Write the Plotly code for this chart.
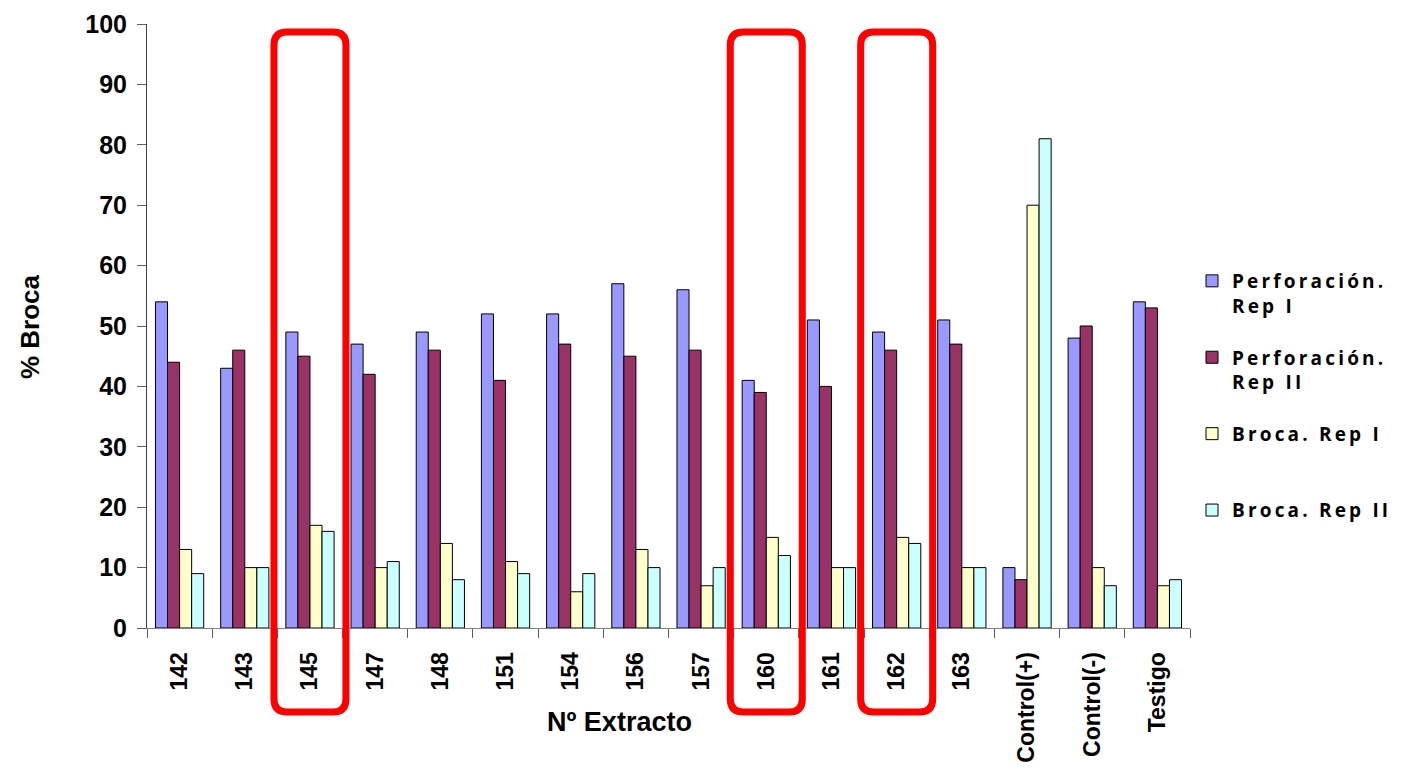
import plotly.graph_objects as go

categories = ["142", "143", "145", "147", "148", "151", "154", "156", "157",
              "160", "161", "162", "163", "Control(+)", "Control(-)", "Testigo"]
perf_rep1 = [54, 43, 49, 47, 49, 52, 52, 57, 56, 41, 51, 49, 51, 10, 48, 54]
perf_rep2 = [44, 46, 45, 42, 46, 41, 47, 45, 46, 39, 40, 46, 47, 8, 50, 53]
broca_rep1 = [13, 10, 17, 10, 14, 11, 6, 13, 7, 15, 10, 15, 10, 70, 10, 7]
broca_rep2 = [9, 10, 16, 11, 8, 9, 9, 10, 10, 12, 10, 14, 10, 81, 7, 8]
series_names = ["Perforación.<br>Rep I", "Perforación.<br>Rep II", "Broca. Rep I<br> ", "Broca. Rep II<br> "]
series_colors = ["#9999FF", "#993366", "#FFFFCC", "#CCFFFF"]
highlighted = ["145", "160", "162"]
y_ticks = list(range(0, 101, 10))
x_title = "Nº Extracto"
y_title = "% Broca"


def spaced(s):
    parts = s.split("<br>")
    return "<br>".join("\u2006".join(list(p)) if p.strip() else p for p in parts)


fig = go.Figure()
for i, (name, vals, col) in enumerate(zip(series_names, [perf_rep1, perf_rep2, broca_rep1, broca_rep2], series_colors)):
    fig.add_trace(go.Bar(
        x=categories, y=vals, name=spaced(name), legendgroup=f"g{i}",
        marker=dict(color=col, line=dict(color="#000000", width=1)),
    ))

# page has an 8px body margin; plot area in page coords: x 147..1190, y 24..628
OFF = 8
W, H = 1404 - OFF, 782 - OFF
L, T = 147 - OFF, 24 - OFF
R, B = W - (1190 - OFF), H - (628 - OFF)
pw, ph = W - L - R, H - T - B

n = len(categories)
half_w = 36 / pw
rx, ry = 13 / pw, 13 / ph
y_top = (628 - 32) / ph
y_bot = (628 - 712) / ph
for c in highlighted:
    idx = categories.index(c)
    cx = (idx + 0.5) / n
    x0, x1 = cx - half_w, cx + half_w
    path = (f"M {x0+rx},{y_top} L {x1-rx},{y_top} Q {x1},{y_top} {x1},{y_top-ry} "
            f"L {x1},{y_bot+ry} Q {x1},{y_bot} {x1-rx},{y_bot} "
            f"L {x0+rx},{y_bot} Q {x0},{y_bot} {x0},{y_bot+ry} "
            f"L {x0},{y_top-ry} Q {x0},{y_top} {x0+rx},{y_top} Z")
    fig.add_shape(type="path", path=path, xref="paper", yref="paper",
                  line=dict(color="#FF0000", width=7), layer="above")

fig.add_annotation(text=x_title, xref="paper", yref="paper",
                   x=(619 - 147) / pw, y=(628 - 722) / ph, xanchor="center", yanchor="middle",
                   showarrow=False, font=dict(size=27, weight="bold", color="#000000"))
fig.add_annotation(text=y_title, xref="paper", yref="paper", textangle=-90,
                   x=(30 - 147) / pw, y=(628 - 327) / ph, xanchor="center", yanchor="middle",
                   showarrow=False, font=dict(size=26, weight="bold", color="#000000"))

fig.update_layout(
    width=W, height=H,
    margin=dict(l=L, r=R, t=T, b=B, autoexpand=False),
    plot_bgcolor="white", paper_bgcolor="white",
    barmode="group", bargap=0.26, bargroupgap=0,
    font=dict(family="Liberation Sans, Arial", color="#000000"),
    showlegend=True,
    legend=dict(x=(1192 - 147) / pw, y=(628 - 262) / ph, xanchor="left", yanchor="top",
                font=dict(family="Open Sans", size=19, color="#000000", weight="bold"),
                valign="top", tracegroupgap=24, itemwidth=30,
                bgcolor="rgba(0,0,0,0)"),
)
fig.update_xaxes(
    type="category", showline=True, linecolor="#808080", linewidth=1,
    ticks="outside", tickson="boundaries", ticklen=9, tickcolor="#606060",
    tickangle=-90, tickfont=dict(size=23, weight="bold"), ticklabelstandoff=14,
    showgrid=False, automargin=False,
)
fig.update_yaxes(
    range=[0, 100], tickvals=y_ticks, showline=True, linecolor="#404040", linewidth=1,
    ticks="outside", ticklen=9, tickcolor="#606060",
    tickfont=dict(size=25, weight="bold"), ticklabelstandoff=5,
    showgrid=False, zeroline=False, automargin=False,
)

fig.write_html("out.html")
